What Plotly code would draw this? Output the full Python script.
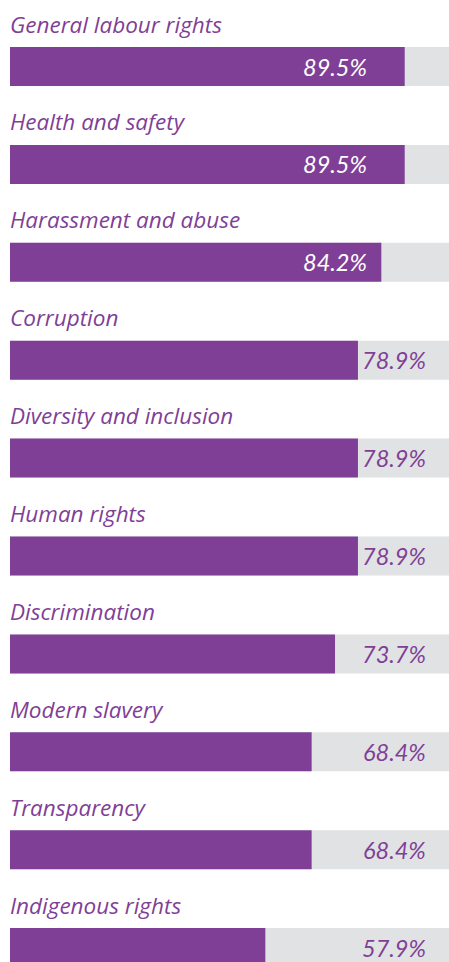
import plotly.graph_objects as go

# ── Data ─────────────────────────────────────────────────────────────
categories = [
    "General labour rights", "Health and safety", "Harassment and abuse",
    "Corruption", "Diversity and inclusion", "Human rights",
    "Discrimination", "Modern slavery", "Transparency", "Indigenous rights",
]
values = [89.5, 89.5, 84.2, 78.9, 78.9, 78.9, 73.7, 68.4, 68.4, 57.9]

PURPLE = "#7F3F97"
TRACK = "#E1E2E4"
LABEL_FONT = "'Open Sans', Lato, sans-serif"
VALUE_FONT = "Lato, 'Open Sans', sans-serif"

W, H = 449, 962
PAD_L = 10
FULL_PX = 441          # pixel width of 100 %
ROW_PX = 97.9          # distance between bar centres
FIRST_PX = 66.5        # centre of first bar from top
BAR_PX = 39

pos = list(range(len(categories)))
x_max = (W - PAD_L) / FULL_PX * 100
y_top = -FIRST_PX / ROW_PX
y_bot = (H - FIRST_PX) / ROW_PX
bar_w = BAR_PX / ROW_PX

fig = go.Figure()
fig.add_trace(go.Bar(
    x=[100] * len(pos), y=pos, orientation="h", width=bar_w,
    marker=dict(color=TRACK, line=dict(width=0)),
    hoverinfo="skip", showlegend=False,
))
fig.add_trace(go.Bar(
    x=values, y=pos, orientation="h", width=bar_w,
    marker=dict(color=PURPLE, line=dict(width=0)),
    hovertemplate="%{customdata}: %{x:.1f}%<extra></extra>",
    customdata=categories, showlegend=False,
))
fig.update_layout(barmode="overlay")

# category labels above each bar, value labels on the bar
inside_x = (369 - PAD_L) / FULL_PX * 100
outside_x = (428 - PAD_L) / FULL_PX * 100
for i, (cat, v) in enumerate(zip(categories, values)):
    fig.add_annotation(
        x=0, y=i - 0.434, xref="x", yref="y",
        text=f"<i>{cat}</i>", showarrow=False,
        xanchor="left", yanchor="middle", xshift=-2,
        font=dict(family=LABEL_FONT, size=22.5, color=PURPLE),
    )
    inside = v > 80
    fig.add_annotation(
        x=inside_x if inside else outside_x, y=i, xref="x", yref="y",
        text=f"<i>{v:.1f}%</i>", showarrow=False,
        xanchor="right", yanchor="middle",
        font=dict(family=VALUE_FONT, size=23.5, color="white" if inside else PURPLE),
    )

fig.update_layout(
    width=W, height=H,
    margin=dict(l=PAD_L, r=0, t=0, b=0),
    paper_bgcolor="white", plot_bgcolor="white",
    xaxis=dict(range=[0, x_max], visible=False, fixedrange=True),
    yaxis=dict(range=[y_bot, y_top], visible=False, fixedrange=True),
)

# drop the default page margin so the figure sits at the window corner
fig.write_html(
    "out.html",
    config={"displayModeBar": False},
    post_script="document.body.style.margin='0';",
)
